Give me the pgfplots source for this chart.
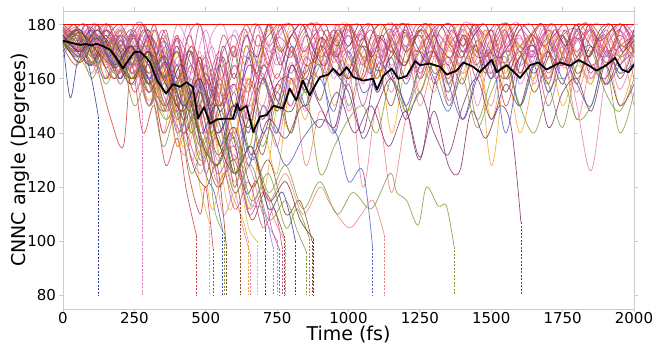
\documentclass[border=0pt]{standalone}
\usepackage{pgfplots}
\pgfplotsset{compat=1.18}
\usepackage{fontspec}
\setmainfont{DejaVu Sans}
\usetikzlibrary{calc}
\definecolor{cpink}{HTML}{E27BC2}
\definecolor{cmag}{HTML}{C8479E}
\definecolor{cred}{HTML}{CC3F3F}
\definecolor{csal}{HTML}{EE7E7E}
\definecolor{corg}{HTML}{F5A623}
\definecolor{coli}{HTML}{7F9A36}
\definecolor{cbrn}{HTML}{8B4A22}
\definecolor{cdbr}{HTML}{6A3A16}
\definecolor{cpur}{HTML}{7A2E6C}
\definecolor{cblu}{HTML}{4C5CC4}
\definecolor{cnav}{HTML}{2E3A8C}
\definecolor{clav}{HTML}{8A8AE6}
\definecolor{cyel}{HTML}{E8B838}
\definecolor{spine}{HTML}{CCCCCC}
\newcommand{\lp}[2]{\addplot[traj,#1] table[row sep=\\,header=false,x expr=\coordindex*50,y index=0]{#2};}
\newcommand{\lpf}[2]{\addplot[traj,#1] table[row sep=\\,header=false,x expr=\coordindex*40,y index=0]{#2};}
\begin{document}
\begin{tikzpicture}
\begin{axis}[
  scale only axis, width=571pt, height=298pt,
  xmin=0, xmax=2000, ymin=75, ymax=185,
  xtick={0,250,...,2000}, ytick={80,100,...,180},
  axis line style={spine, line width=0.8pt},
  tick style={spine, line width=0.8pt}, tick align=outside, major tick length=3.5pt,
  tick label style={font=\fontsize{15}{18}\selectfont, black},
  xticklabel style={inner sep=1pt, yshift=1.5pt},
  /pgf/number format/assume math mode=true,
  /pgf/number format/1000 sep={},
  xlabel={Time (fs)}, ylabel={CNNC angle (Degrees)},
  label style={font=\fontsize{19}{22}\selectfont},
  xlabel style={inner sep=1pt, yshift=0pt}, ylabel style={yshift=-9pt},
  clip=true,
  traj/.style={smooth, tension=0.55, line width=0.7pt, opacity=0.85},
  hop/.style={dashed, line width=0.6pt, dash pattern=on 2pt off 1.5pt},
]
\coordinate (ll) at (rel axis cs:0,0);
\coordinate (ur) at (rel axis cs:1,1);
% non-hopping trajectories (every 50 fs)
\lp{cpink}{178\\170\\176\\165\\178\\168\\174\\160\\172\\150\\165\\140\\158\\145\\170\\152\\166\\148\\172\\160\\176\\158\\174\\163\\178\\155\\172\\166\\178\\150\\170\\162\\176\\158\\174\\165\\178\\160\\172\\156\\170\\}
\lp{cmag}{175\\178\\168\\175\\162\\176\\158\\170\\145\\160\\138\\155\\130\\150\\162\\140\\165\\155\\175\\162\\170\\150\\168\\160\\176\\165\\178\\152\\168\\172\\160\\177\\165\\170\\150\\168\\175\\162\\178\\168\\174\\}
\lp{cred}{172\\165\\178\\170\\160\\175\\150\\168\\135\\155\\125\\148\\138\\160\\145\\158\\150\\168\\160\\175\\163\\178\\155\\170\\165\\178\\158\\172\\176\\160\\174\\150\\168\\176\\160\\172\\158\\176\\165\\178\\160\\}
\lp{csal}{176\\170\\162\\174\\165\\158\\172\\140\\165\\130\\150\\120\\142\\128\\150\\135\\160\\128\\148\\140\\165\\120\\150\\118\\145\\160\\170\\158\\176\\165\\150\\172\\160\\178\\155\\170\\145\\165\\158\\172\\150\\}
\lp{corg}{174\\178\\170\\176\\168\\160\\175\\155\\170\\148\\162\\130\\150\\112\\140\\125\\160\\145\\170\\150\\168\\160\\175\\140\\165\\170\\155\\176\\160\\172\\145\\165\\140\\160\\170\\150\\165\\158\\172\\150\\165\\}
\lp{coli}{168\\175\\160\\172\\165\\178\\155\\170\\160\\140\\165\\150\\170\\135\\160\\150\\172\\155\\165\\175\\150\\168\\160\\172\\148\\165\\176\\158\\170\\145\\160\\168\\150\\165\\158\\142\\165\\170\\155\\148\\160\\}
\lp{cbrn}{173\\168\\176\\164\\172\\170\\158\\175\\150\\165\\140\\158\\120\\145\\132\\155\\140\\165\\152\\170\\160\\175\\163\\168\\177\\160\\170\\155\\175\\165\\178\\160\\168\\172\\158\\176\\162\\170\\176\\160\\172\\}
\lp{cpur}{178\\172\\165\\178\\170\\162\\176\\165\\148\\170\\150\\160\\145\\168\\140\\158\\160\\150\\172\\163\\155\\140\\165\\160\\150\\130\\158\\165\\145\\160\\170\\155\\168\\162\\170\\158\\175\\165\\160\\172\\168\\}
\lp{cblu}{172\\176\\170\\160\\174\\165\\178\\160\\170\\145\\160\\135\\155\\128\\150\\140\\165\\150\\160\\148\\170\\155\\162\\175\\158\\170\\160\\148\\165\\172\\160\\170\\150\\165\\175\\160\\168\\172\\158\\165\\170\\}
\lp{cpink}{179\\175\\178\\172\\179\\170\\176\\168\\174\\162\\178\\160\\172\\158\\176\\165\\178\\170\\175\\166\\178\\172\\165\\178\\170\\176\\168\\178\\172\\165\\178\\170\\175\\168\\178\\172\\166\\177\\170\\174\\178\\}
\lp{cmag}{176\\179\\172\\178\\170\\176\\165\\178\\160\\172\\155\\168\\150\\165\\158\\172\\162\\176\\168\\174\\178\\165\\176\\170\\178\\162\\176\\172\\165\\178\\170\\166\\178\\172\\168\\176\\178\\165\\172\\178\\170\\}
\lp{cred}{179\\174\\179\\168\\176\\172\\178\\160\\170\\155\\168\\150\\162\\145\\165\\155\\170\\160\\175\\168\\172\\176\\160\\174\\166\\178\\170\\162\\176\\170\\178\\165\\172\\176\\162\\175\\170\\178\\166\\172\\176\\}
\lp{csal}{174\\178\\170\\176\\165\\178\\162\\172\\150\\165\\145\\160\\140\\158\\150\\168\\158\\172\\165\\178\\160\\170\\176\\165\\172\\150\\168\\175\\162\\170\\176\\160\\172\\165\\178\\168\\155\\170\\175\\162\\172\\}
\lp{corg}{177\\172\\178\\166\\174\\160\\170\\165\\155\\172\\148\\165\\140\\160\\118\\150\\155\\162\\170\\176\\165\\172\\160\\176\\170\\155\\172\\168\\162\\176\\128\\165\\172\\160\\176\\165\\170\\158\\175\\168\\172\\}
\lp{cpink}{176\\168\\178\\170\\166\\176\\172\\150\\168\\158\\140\\155\\135\\150\\145\\162\\150\\168\\160\\172\\148\\165\\170\\155\\172\\160\\176\\150\\168\\172\\165\\178\\158\\170\\160\\174\\150\\126\\160\\170\\174\\}
\lp{cpur}{173\\178\\168\\175\\160\\172\\165\\158\\170\\150\\162\\148\\158\\140\\165\\152\\148\\160\\150\\142\\158\\138\\150\\160\\145\\155\\140\\132\\150\\160\\145\\158\\150\\165\\142\\155\\160\\148\\165\\150\\158\\}
\lp{coli}{170\\175\\165\\172\\158\\168\\150\\162\\145\\155\\132\\150\\125\\145\\135\\150\\140\\155\\125\\135\\145\\150\\140\\160\\148\\155\\165\\150\\160\\142\\155\\165\\150\\140\\155\\160\\145\\150\\165\\140\\155\\}
\lp{cblu}{175\\170\\178\\168\\172\\176\\160\\174\\165\\170\\150\\165\\145\\170\\160\\150\\172\\158\\165\\140\\162\\172\\155\\168\\150\\165\\170\\158\\145\\162\\170\\140\\165\\172\\155\\168\\158\\150\\170\\162\\166\\}
\lp{cred}{178\\176\\170\\178\\172\\165\\176\\168\\158\\172\\160\\150\\165\\155\\172\\160\\176\\165\\170\\178\\168\\160\\175\\170\\165\\178\\172\\160\\176\\168\\170\\178\\162\\175\\170\\165\\178\\172\\168\\176\\170\\}
\lp{cpink}{172\\178\\175\\166\\178\\170\\160\\176\\162\\150\\170\\156\\165\\150\\160\\170\\155\\176\\165\\170\\158\\176\\168\\172\\178\\165\\160\\175\\170\\178\\162\\172\\176\\165\\170\\178\\168\\160\\175\\178\\165\\}
\lp{cbrn}{175\\170\\165\\176\\168\\175\\160\\148\\165\\140\\155\\135\\150\\142\\160\\148\\165\\156\\175\\168\\160\\172\\165\\150\\170\\176\\162\\168\\158\\174\\166\\160\\170\\155\\168\\176\\160\\172\\158\\168\\174\\}
\lp{cmag}{179\\176\\172\\178\\168\\176\\170\\162\\175\\165\\158\\170\\150\\165\\160\\175\\170\\162\\178\\170\\176\\168\\172\\178\\160\\172\\176\\165\\178\\170\\162\\176\\172\\168\\178\\165\\174\\178\\170\\165\\176\\}
% non-hopping trajectories (every 40 fs)
\lpf{cpink}{178\\180\\172\\180\\168\\176\\180\\170\\178\\165\\180\\172\\160\\176\\180\\168\\175\\180\\162\\178\\180\\170\\176\\180\\166\\178\\180\\172\\165\\180\\176\\170\\180\\174\\162\\180\\178\\168\\180\\172\\180\\166\\176\\180\\170\\178\\180\\164\\176\\180\\172\\}
\lpf{cmag}{176\\170\\180\\174\\180\\166\\178\\180\\162\\172\\158\\176\\180\\165\\150\\170\\178\\160\\180\\172\\168\\180\\175\\162\\180\\170\\178\\180\\168\\176\\180\\164\\172\\180\\176\\168\\180\\172\\160\\178\\180\\170\\176\\180\\165\\178\\180\\172\\168\\180\\176\\}
\lpf{cred}{180\\176\\168\\180\\172\\178\\164\\180\\170\\155\\175\\148\\168\\140\\160\\172\\150\\176\\165\\180\\172\\160\\180\\176\\168\\180\\170\\162\\178\\180\\170\\176\\180\\165\\178\\172\\180\\168\\176\\180\\162\\174\\180\\170\\178\\166\\180\\176\\170\\180\\172\\}
\lpf{csal}{174\\180\\170\\176\\180\\165\\172\\180\\168\\160\\176\\152\\170\\145\\165\\155\\178\\160\\172\\180\\168\\176\\180\\160\\172\\180\\165\\176\\180\\170\\178\\162\\180\\176\\170\\180\\166\\178\\172\\180\\168\\176\\180\\172\\164\\180\\176\\170\\180\\166\\178\\}
\lpf{cbrn}{177\\172\\180\\168\\176\\180\\172\\160\\178\\166\\150\\170\\158\\145\\168\\150\\172\\162\\180\\170\\176\\180\\166\\178\\172\\180\\160\\176\\180\\170\\165\\178\\180\\172\\168\\180\\175\\162\\178\\180\\170\\176\\180\\164\\172\\180\\168\\178\\180\\172\\176\\}
\lpf{cpink}{180\\174\\178\\180\\166\\178\\170\\180\\160\\176\\165\\180\\155\\172\\160\\178\\168\\180\\170\\176\\180\\165\\178\\172\\180\\168\\176\\180\\170\\162\\180\\176\\168\\180\\172\\178\\180\\166\\176\\180\\172\\168\\180\\176\\180\\170\\178\\180\\166\\176\\180\\}
\lpf{corg}{175\\180\\168\\176\\160\\178\\172\\165\\180\\158\\170\\150\\165\\135\\160\\148\\172\\165\\178\\170\\180\\168\\176\\160\\178\\180\\170\\165\\180\\172\\176\\168\\180\\160\\176\\180\\170\\178\\165\\180\\172\\176\\168\\180\\165\\176\\180\\170\\178\\172\\168\\}
\lpf{cpur}{178\\172\\176\\180\\168\\176\\165\\178\\170\\160\\172\\155\\168\\150\\172\\160\\176\\168\\180\\165\\176\\180\\170\\165\\178\\172\\180\\168\\176\\160\\180\\172\\166\\178\\180\\170\\176\\180\\168\\172\\180\\176\\165\\178\\172\\180\\168\\176\\180\\170\\178\\}
\lpf{cmag}{172\\178\\180\\170\\180\\174\\178\\168\\180\\165\\176\\160\\180\\155\\170\\176\\165\\180\\172\\178\\180\\170\\176\\180\\168\\180\\174\\178\\170\\180\\172\\180\\176\\166\\180\\172\\178\\180\\170\\176\\180\\168\\178\\180\\172\\176\\180\\168\\178\\180\\174\\}
\lpf{cred}{176\\180\\174\\178\\180\\170\\176\\180\\168\\178\\160\\176\\165\\158\\176\\168\\180\\172\\176\\180\\170\\178\\180\\168\\176\\180\\172\\180\\166\\178\\180\\170\\176\\180\\172\\168\\180\\176\\180\\170\\178\\180\\172\\176\\180\\168\\180\\174\\178\\180\\170\\}
% hopping trajectories
\addplot[traj,cnav] coordinates {(0,174)(25,153)(50,166)(75,170)(100,160)(124,146)};
\addplot[traj,cpink] coordinates {(0,177)(40,168)(80,175)(120,162)(160,172)(200,158)(240,166)(278,148)};
\addplot[traj,cred] coordinates {(0,175)(40,170)(80,176)(120,164)(165,146)(211,135)(240,165)(280,140)(320,150)(360,128)(400,138)(430,120)(450,110)(468,102)};
\addplot[traj,cyel] coordinates {(0,172)(50,178)(100,168)(150,174)(200,162)(250,170)(300,150)(350,160)(400,135)(450,145)(480,120)(513,107)};
\addplot[traj,cred] coordinates {(0,178)(50,170)(100,175)(150,160)(200,170)(250,155)(300,165)(350,140)(400,150)(440,125)(480,110)(500,120)(526,97)};
\addplot[traj,cblu] coordinates {(0,170)(50,176)(100,165)(150,172)(200,160)(250,168)(300,150)(350,162)(400,140)(450,150)(500,125)(530,118)(559,104)};
\addplot[traj,coli] coordinates {(0,176)(50,166)(100,172)(150,158)(200,168)(250,150)(300,160)(350,135)(400,148)(450,125)(500,138)(530,112)(564,103)};
\addplot[traj,cbrn] coordinates {(0,173)(50,178)(100,166)(150,174)(200,165)(250,160)(300,170)(350,148)(400,158)(450,130)(500,120)(540,128)(571,99)};
\addplot[traj,cbrn] coordinates {(0,178)(60,170)(120,176)(180,165)(240,172)(300,155)(360,165)(420,140)(480,150)(530,128)(580,135)(622,114)};
\addplot[traj,corg] coordinates {(0,175)(60,168)(120,176)(180,160)(240,170)(300,152)(360,162)(420,135)(470,145)(520,112)(560,125)(600,115)(630,108)(649,100)};
\addplot[traj,cpink] coordinates {(0,177)(60,170)(120,174)(180,162)(240,170)(300,150)(360,160)(420,140)(480,125)(520,135)(560,110)(600,118)(630,105)(657,95)};
\addplot[traj,cyel] coordinates {(0,171)(60,177)(120,165)(180,172)(240,160)(300,168)(360,145)(420,155)(480,130)(530,140)(580,112)(620,120)(650,105)(680,100)};
\addplot[traj,cdbr] coordinates {(0,174)(60,166)(120,175)(180,168)(240,158)(300,170)(360,150)(420,160)(480,138)(540,128)(590,140)(640,118)(680,122)(710,104)};
\addplot[traj,clav] coordinates {(0,176)(60,172)(120,178)(180,166)(240,174)(300,160)(360,168)(420,150)(480,158)(540,130)(600,140)(650,115)(700,112)(735,98)};
\addplot[traj,cpink] coordinates {(0,178)(60,168)(120,174)(180,160)(240,170)(300,158)(360,148)(420,160)(480,132)(540,145)(600,118)(650,128)(700,110)(752,100)};
\addplot[traj,cmag] coordinates {(0,172)(60,178)(120,168)(180,175)(240,162)(300,170)(360,152)(420,140)(480,150)(540,125)(600,135)(650,110)(700,118)(730,105)(758,97)};
\addplot[traj,cmag] coordinates {(0,176)(60,170)(120,165)(180,176)(240,168)(300,155)(360,165)(420,145)(480,128)(540,138)(600,112)(650,122)(700,105)(740,112)(767,98)};
\addplot[traj,cbrn] coordinates {(0,174)(60,177)(120,170)(180,165)(240,172)(300,160)(360,150)(420,162)(480,140)(540,120)(600,130)(660,108)(710,118)(774,102)};
\addplot[traj,csal] coordinates {(0,177)(60,170)(120,176)(180,162)(240,168)(300,150)(360,160)(420,132)(480,145)(540,122)(600,132)(650,112)(700,120)(740,108)(779,100)};
\addplot[traj,cnav] coordinates {(0,173)(60,178)(120,166)(180,174)(240,160)(300,170)(360,155)(420,165)(480,140)(540,150)(600,125)(660,135)(720,112)(770,118)(814,100)};
\addplot[traj,coli] coordinates {(0,175)(60,168)(120,176)(180,164)(240,170)(300,158)(360,145)(420,155)(480,130)(540,140)(600,118)(660,128)(720,108)(780,115)(820,104)(853,96)};
\addplot[traj,coli] coordinates {(0,178)(60,172)(120,165)(180,175)(240,166)(300,172)(360,150)(420,162)(480,140)(540,128)(600,138)(660,115)(720,125)(780,105)(820,112)(863,101)};
\addplot[traj,cbrn] coordinates {(0,172)(60,177)(120,170)(180,160)(240,172)(300,162)(360,168)(420,145)(480,155)(540,132)(600,142)(660,120)(720,130)(780,110)(830,115)(872,100)};
\addplot[traj,cdbr] coordinates {(0,176)(60,170)(120,178)(180,168)(240,160)(300,170)(360,158)(420,148)(480,160)(540,138)(600,125)(660,135)(720,115)(780,122)(830,108)(877,101)};
\addplot[traj,cblu] coordinates {(0,174)(60,168)(120,176)(180,165)(240,172)(300,160)(360,168)(420,150)(480,158)(540,140)(600,150)(660,130)(720,142)(780,128)(840,138)(900,145)(960,139)(1000,122)(1050,126)(1085,97)};
\addplot[traj,csal] coordinates {(0,177)(60,170)(120,165)(180,174)(240,162)(300,168)(360,150)(420,160)(480,135)(540,145)(600,122)(660,132)(720,115)(780,125)(840,110)(900,120)(935,114)(1000,105)(1046,110)(1086,115)(1126,102)};
\addplot[traj,coli] coordinates {(0,172)(60,176)(120,166)(180,172)(240,160)(300,168)(360,148)(420,158)(480,135)(540,145)(600,125)(660,135)(720,118)(780,128)(840,112)(900,122)(960,110)(1016,118)(1080,112)(1145,125)(1169,118)(1204,115)(1244,106)(1273,120)(1314,113)(1343,113)(1370,98)};
\addplot[traj,cpur] coordinates {(0,176)(60,170)(120,175)(180,164)(240,172)(300,158)(360,166)(420,150)(480,160)(540,140)(600,150)(660,132)(720,145)(780,138)(840,150)(900,142)(960,155)(1020,140)(1080,150)(1140,135)(1200,148)(1250,131)(1300,148)(1350,128)(1390,126)(1430,148)(1480,138)(1530,150)(1570,142)(1604,107)};
% hop markers
\addplot[hop,cnav] coordinates {(124,146)(124,80)};
\addplot[hop,cpink] coordinates {(278,148)(278,80)};
\addplot[hop,cred] coordinates {(468,102)(468,80)};
\addplot[hop,cyel] coordinates {(513,107)(513,80)};
\addplot[hop,cred] coordinates {(526,97)(526,80)};
\addplot[hop,cblu] coordinates {(559,104)(559,80)};
\addplot[hop,coli] coordinates {(564,103)(564,80)};
\addplot[hop,cbrn] coordinates {(571,99)(571,80)};
\addplot[hop,cbrn] coordinates {(622,114)(622,80)};
\addplot[hop,corg] coordinates {(649,100)(649,80)};
\addplot[hop,cpink] coordinates {(657,95)(657,80)};
\addplot[hop,cyel] coordinates {(680,100)(680,80)};
\addplot[hop,cdbr] coordinates {(710,104)(710,80)};
\addplot[hop,clav] coordinates {(735,98)(735,80)};
\addplot[hop,cpink] coordinates {(752,100)(752,80)};
\addplot[hop,cmag] coordinates {(758,97)(758,80)};
\addplot[hop,cmag] coordinates {(767,98)(767,80)};
\addplot[hop,cbrn] coordinates {(774,102)(774,80)};
\addplot[hop,csal] coordinates {(779,100)(779,80)};
\addplot[hop,cnav] coordinates {(814,100)(814,80)};
\addplot[hop,coli] coordinates {(853,96)(853,80)};
\addplot[hop,coli] coordinates {(863,101)(863,80)};
\addplot[hop,cbrn] coordinates {(872,100)(872,80)};
\addplot[hop,cdbr] coordinates {(877,101)(877,80)};
\addplot[hop,cblu] coordinates {(1085,97)(1085,80)};
\addplot[hop,csal] coordinates {(1126,102)(1126,80)};
\addplot[hop,coli] coordinates {(1370,98)(1370,80)};
\addplot[hop,cpur] coordinates {(1604,107)(1604,80)};
% 180 reference line
\addplot[red, line width=1pt] coordinates {(0,180)(2000,180)};
% mean
\addplot[black, line width=1.8pt, line join=round] coordinates {(0,174)(20,173.5)(40,173)(60,172.5)(80,172.8)(100,172.3)(118,172.9)(140,172)(165,170.7)(185,168)(210,163.8)(230,167)(250,169.8)(270,170)(290,168)(305,166)(330,159.3)(361,154.5)(385,158)(410,157)(433,158.7)(455,156.9)(473,145.3)(494,149.5)(515,143.4)(540,145)(560,145.2)(595,145.2)(610,150.7)(620,148.3)(643,150)(666,140.3)(690,146)(713,146.6)(737,150)(771,149)(794,156.4)(817,152)(840,159.3)(864,153.8)(880,157)(900,160.6)(929,161.5)(946,163.7)(970,161.2)(994,164.3)(1017,160.6)(1051,159.3)(1086,160)(1100,156)(1121,161)(1151,163.7)(1175,160)(1204,161)(1233,166.5)(1250,165)(1286,165.6)(1321,164.4)(1344,161.5)(1379,163)(1402,166)(1437,164.4)(1460,162.4)(1502,167)(1519,162.4)(1554,165)(1601,160.3)(1636,165)(1665,166)(1694,163.4)(1741,166)(1776,164.8)(1805,166.9)(1834,165.4)(1869,163)(1904,165)(1934,167.7)(1957,163.4)(1981,162.4)(2000,165.2)};
\end{axis}
\pgfresetboundingbox
\path ($(ll)+(-63pt,-36pt)$) rectangle ($(ur)+(20pt,11pt)$);
\end{tikzpicture}
\end{document}
